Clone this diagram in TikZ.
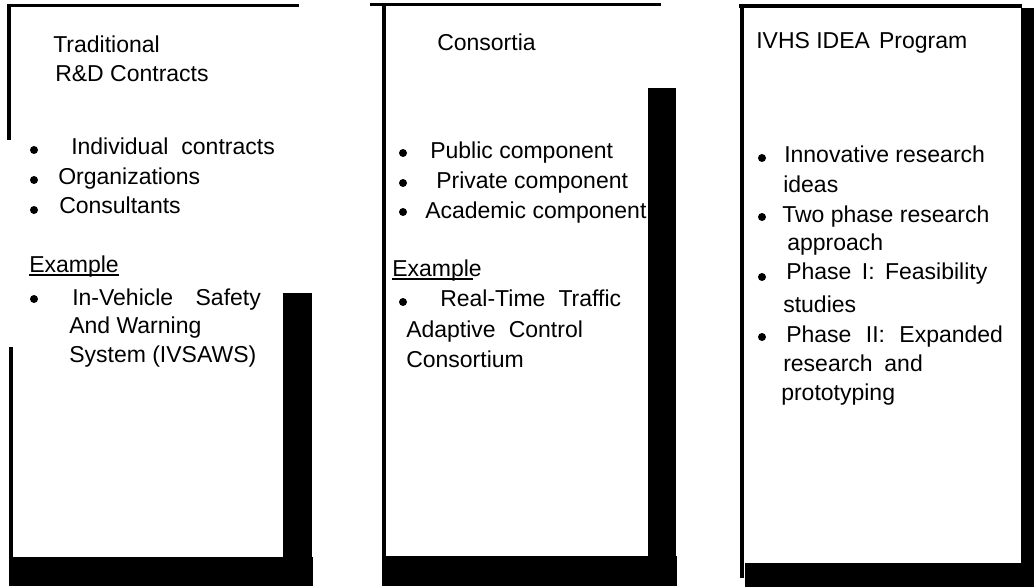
\documentclass[tikz,border=0pt]{standalone}
\usepackage{fontspec}
\setmainfont{Liberation Sans}
\begin{document}
\begin{tikzpicture}[x=0.75pt, y=-0.75pt,
	txt/.style={anchor=base west, inner sep=0pt,
		font=\fontsize{17.25}{20}\selectfont},
	uline/.style={line width=1.5pt}]
\useasboundingbox (0,0) rectangle (1034,587);
% frame lines and shadow bars
\foreach \xa/\ya/\xb/\yb in {7/4/299/7, 7/4/11/140, 9/347/13/572,
	283/293/312/557, 9/557/313/586,
	370/3/661/6, 382/3/386/573, 648/88/676/586, 382/556/677/586,
	739/4/1022/8, 740/4/744/578, 1021/8/1034/587, 745/563/1034/587}
	\fill (\xa,\ya) rectangle (\xb,\yb);
% bullets
\foreach \x/\y in {34/150, 34/180, 34/210, 34/299,
	403/153, 403/183, 403/212, 403/302,
	762/158, 762/217, 762/277, 762/337}
	\fill (\x,\y) circle (3pt);
% traditional contracts
\foreach \lbl/\x/\y [count=\i] in {Traditional/53/52, R\&D Contracts/55/81,
	{Individual\hspace{5pt} contracts}/71/154, Organizations/58/184,
	Consultants/59/213, {In-Vehicle\hspace{12pt} Safety}/72/305,
	And Warning/69/333, {System (IVSAWS)}/69/362}
	\node[txt] (trad\i) at (\x,\y) {\lbl};
\node[txt] (trad-ex) at (29,272) {Example};
\draw[uline] ([yshift=-2.5pt]trad-ex.base west)
	-- ([yshift=-2.5pt]trad-ex.base east);
% consortia
\foreach \lbl/\x/\y [count=\i] in {Consortia/437/50,
	Public component/430/158, Private component/436/188,
	Academic component/425/218, {Real-Time\hspace{5pt} Traffic}/440/306,
	{Adaptive\hspace{5pt} Control}/406/337, Consortium/406/367}
	\node[txt] (cons\i) at (\x,\y) {\lbl};
\node[txt] (cons-ex) at (392,276) {Example};
\draw[uline] ([yshift=-2pt]cons-ex.base west)
	-- ([yshift=-2pt, xshift=-7pt]cons-ex.base east);
% ivhs idea program
\foreach \lbl/\x/\y [count=\i] in {{IVHS IDEA\hspace{2pt} Program}/756/48,
	Innovative research/784/162, ideas/783/192,
	Two phase research/782/222, approach/787/250,
	{Phase\hspace{3pt} I:\hspace{3pt} Feasibility}/786/279, studies/783/312,
	{Phase\hspace{6pt} II:\hspace{6pt} Expanded}/786/342,
	{research\hspace{4pt} and}/783/371, prototyping/781/400}
	\node[txt] (ivhs\i) at (\x,\y) {\lbl};
\end{tikzpicture}
\end{document}
